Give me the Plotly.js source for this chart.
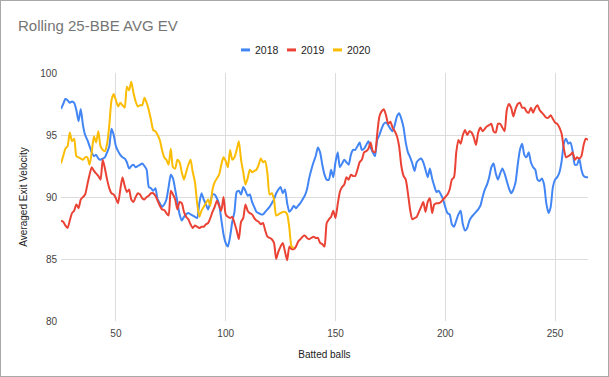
<!DOCTYPE html>
<html>
<head>
<meta charset="utf-8">
<script src="https://cdn.plot.ly/plotly-3.0.1.min.js"></script>
<style>
html,body{margin:0;padding:0;background:#fff;}
#wrap{position:relative;width:609px;height:377px;}
#chart{position:absolute;left:0;top:0;width:609px;height:377px;}
#frame{position:absolute;left:0;top:0;width:609px;height:377px;box-sizing:border-box;border:1px solid #a8a8a8;pointer-events:none;}
</style>
</head>
<body>
<div id="wrap"><div id="chart"></div><div id="frame"></div></div>
<script>
// Batted-ball index for each series
const x2018 = [];
for (let i = 25; i <= 265; i++) x2018.push(i);
const x2019 = x2018.slice();
const x2020 = [];
for (let i = 25; i <= 131; i++) x2020.push(i);

const ev2018 = [
97.1,97.5,97.9,97.8,97.6,97.7,97.6,97.0,96.1,97.1,
95.8,95.0,94.6,94.1,93.6,93.3,93.4,93.1,93.0,93.1,
93.2,93.6,94.1,95.5,95.0,94.1,93.7,93.4,93.2,93.1,
92.8,92.3,92.5,92.6,92.4,92.5,92.6,92.7,92.5,92.2,
90.8,90.7,90.5,90.7,89.8,89.5,89.2,89.4,89.8,90.8,
91.8,91.5,90.6,89.6,88.6,88.1,88.4,88.6,88.7,88.6,
88.5,88.4,88.3,89.5,90.3,89.8,89.4,89.0,89.6,90.2,
90.2,89.9,89.4,88.2,87.0,86.3,86.0,86.8,88.0,88.8,
90.4,90.5,90.2,90.8,90.5,90.1,90.2,89.6,89.2,88.8,
88.7,88.6,88.6,88.8,89.0,89.2,89.5,89.8,90.3,90.6,
90.8,90.3,90.6,89.5,88.8,89.0,89.3,89.1,89.3,89.5,
89.8,90.1,90.6,91.5,92.2,92.8,93.3,94.0,93.6,92.6,
91.8,91.4,91.4,92.2,91.6,92.8,93.6,92.4,92.7,93.0,
92.8,92.6,93.4,93.8,93.8,94.1,94.4,93.8,93.9,94.2,
94.5,94.0,93.6,93.3,94.6,95.0,95.5,95.9,96.0,95.8,
95.5,95.3,95.8,96.5,96.75,96.3,95.6,94.4,93.6,93.2,
92.7,92.1,92.8,93.0,93.1,92.8,92.2,91.6,92.3,91.5,
90.9,90.4,90.5,90.2,89.8,89.2,88.7,88.6,87.8,87.6,
88.1,88.6,88.9,87.8,87.3,87.5,88.1,88.4,88.6,88.8,
89.0,89.3,90.0,90.6,91.0,91.6,92.4,92.7,91.9,91.4,
91.9,92.3,91.9,91.3,90.7,90.3,90.6,91.2,92.6,93.8,
94.3,93.4,93.2,93.6,92.8,92.4,92.2,91.4,91.3,91.5,
91.0,89.5,88.7,89.2,90.8,91.4,91.6,92.0,92.9,94.3,
94.7,94.3,94.4,93.7,92.6,92.6,93.1,92.2,91.7,91.6,
91.6
];

const ev2019 = [
88.1,88.0,87.7,87.5,88.1,88.7,88.9,89.4,89.1,89.8,
90.0,90.2,91.0,91.8,92.4,92.1,91.9,91.7,91.4,93.0,
92.3,91.4,90.7,90.3,90.2,89.9,89.5,90.6,91.6,90.9,
90.4,90.6,89.8,89.6,90.0,90.3,90.2,89.9,89.8,90.0,
90.1,90.3,90.3,90.1,89.7,89.3,89.0,88.95,88.7,88.5,
90.5,90.2,89.8,89.0,89.6,89.5,88.8,88.4,88.2,87.8,
87.5,87.7,87.6,87.5,87.6,87.6,87.8,87.9,88.3,88.8,
89.2,89.7,89.3,88.9,90.0,88.6,88.4,88.3,88.4,87.9,
87.3,86.6,88.0,88.3,89.4,88.9,88.7,88.6,88.3,88.1,
88.0,87.8,87.9,87.3,86.8,86.7,86.6,86.3,85.0,85.6,
86.0,86.3,85.6,84.9,86.0,85.8,85.8,86.0,86.4,86.6,
86.8,86.9,86.7,86.6,86.7,86.8,86.7,86.7,86.3,86.2,
86.0,87.9,88.2,88.4,88.9,88.3,89.4,90.4,90.8,91.0,
91.6,91.4,91.8,91.7,91.7,92.2,92.8,93.0,93.6,93.7,
93.9,94.4,93.7,93.6,95.1,96.5,96.9,97.07,96.6,95.9,
96.07,95.6,95.3,94.9,94.06,92.5,91.7,91.4,90.3,88.95,
88.2,88.3,88.4,88.8,89.2,89.6,88.8,89.6,89.9,88.7,
89.4,89.5,89.5,89.6,89.8,90.0,90.2,90.6,91.4,91.6,
93.6,94.6,94.3,95.0,95.4,95.0,95.3,95.2,94.8,94.2,
95.2,95.6,95.3,95.5,95.7,95.8,95.9,95.3,95.2,95.9,
95.9,95.6,95.3,97.0,97.5,97.2,96.5,97.1,97.5,97.6,
97.2,97.2,96.9,96.8,97.2,96.8,97.2,97.4,97.0,96.8,
96.6,96.4,96.4,96.6,96.3,96.0,95.9,95.6,95.1,93.9,
93.2,93.3,93.4,93.6,93.0,93.2,93.1,93.3,94.2,94.7,
94.6
];

const ev2020 = [
92.7,93.3,93.9,94.1,95.2,94.5,94.7,93.3,93.2,93.1,
93.0,93.2,93.2,92.6,93.6,94.9,94.4,95.3,94.1,93.8,
93.7,94.3,95.8,97.8,98.3,97.8,97.3,97.6,97.4,97.2,
98.9,98.6,99.3,98.4,97.7,97.3,97.4,97.4,98.0,97.6,
97.0,96.2,95.4,95.3,95.0,94.6,93.8,93.2,93.0,92.6,
93.9,92.4,92.3,93.0,92.8,92.0,91.4,92.0,92.6,93.0,
92.0,91.2,89.5,88.4,88.9,89.2,89.5,89.8,89.3,90.6,
91.2,91.5,91.8,92.6,93.2,92.9,92.4,93.8,93.0,93.2,
93.8,94.5,93.0,92.0,91.0,91.5,92.2,92.0,92.1,92.2,
92.6,93.1,92.8,92.9,91.9,90.2,90.3,89.8,88.5,88.6,
88.7,88.8,88.8,88.6,87.5,86.0,85.9
];

const seriesNames = ['2018','2019','2020'];
const seriesColors = ['#4285F4','#EA4335','#FBBC04'];
const xTickVals = [50,100,150,200,250];
const yTickVals = [80,85,90,95,100];

const xs = [x2018, x2019, x2020];
const ys = [ev2018, ev2019, ev2020];

const traces = seriesNames.map((n,i)=>({
  type:'scatter', mode:'lines', name:n,
  x: xs[i], y: ys[i],
  line:{color:seriesColors[i], width:2, shape:'spline', smoothing:0.6},
  showlegend:false, hoverinfo:'x+y+name'
}));

// custom legend (short thick dashes like the original)
const legendCenters = [0.3501, 0.4374, 0.5247];
const shapes = legendCenters.map((c,i)=>({
  type:'rect', xref:'paper', yref:'paper',
  xsizemode:'pixel', ysizemode:'pixel',
  xanchor:c, yanchor:1.093,
  x0:-4.5, x1:4.5, y0:-1.5, y1:1.5,
  fillcolor:seriesColors[i], line:{width:0}
}));
const annotations = seriesNames.map((n,i)=>({
  xref:'paper', yref:'paper', x:legendCenters[i]+0.0135, y:1.093,
  xanchor:'left', yanchor:'middle', showarrow:false,
  text:n, font:{family:'Arial, Liberation Sans, sans-serif', size:10.5, color:'#222'}
}));

const layout = {
  width:609, height:377,
  margin:{l:61, r:21, t:73, b:56, pad:0},
  paper_bgcolor:'#fff', plot_bgcolor:'#fff',
  font:{family:'Arial, Liberation Sans, sans-serif', size:10, color:'#444'},
  title:{text:'Rolling 25-BBE AVG EV', x:18/609, xref:'container', xanchor:'left',
         y:1-26/377, yref:'container', yanchor:'middle',
         font:{family:'Arial, Liberation Sans, sans-serif', size:15, color:'#757575'}},
  xaxis:{range:[25,265], tickvals:xTickVals, showgrid:true, gridcolor:'#dcdcdc', gridwidth:1,
         zeroline:false, showline:false, ticks:'', ticklabelstandoff:5, tickfont:{size:10, color:'#444'},
         title:{text:'Batted balls', font:{size:10, color:'#222'}, standoff:12}, automargin:false},
  yaxis:{range:[80,100], tickvals:yTickVals, showgrid:true, gridcolor:'#dcdcdc', gridwidth:1,
         zeroline:false, showline:false, ticks:'', ticklabelstandoff:3, tickfont:{size:10, color:'#444'},
         title:{text:'Averaged Exit Velocity', font:{size:10, color:'#222'}, standoff:10}, automargin:false},
  shapes:shapes, annotations:annotations, showlegend:false
};

Plotly.newPlot('chart', traces, layout, {displayModeBar:false, staticPlot:true});
</script>
</body>
</html>
